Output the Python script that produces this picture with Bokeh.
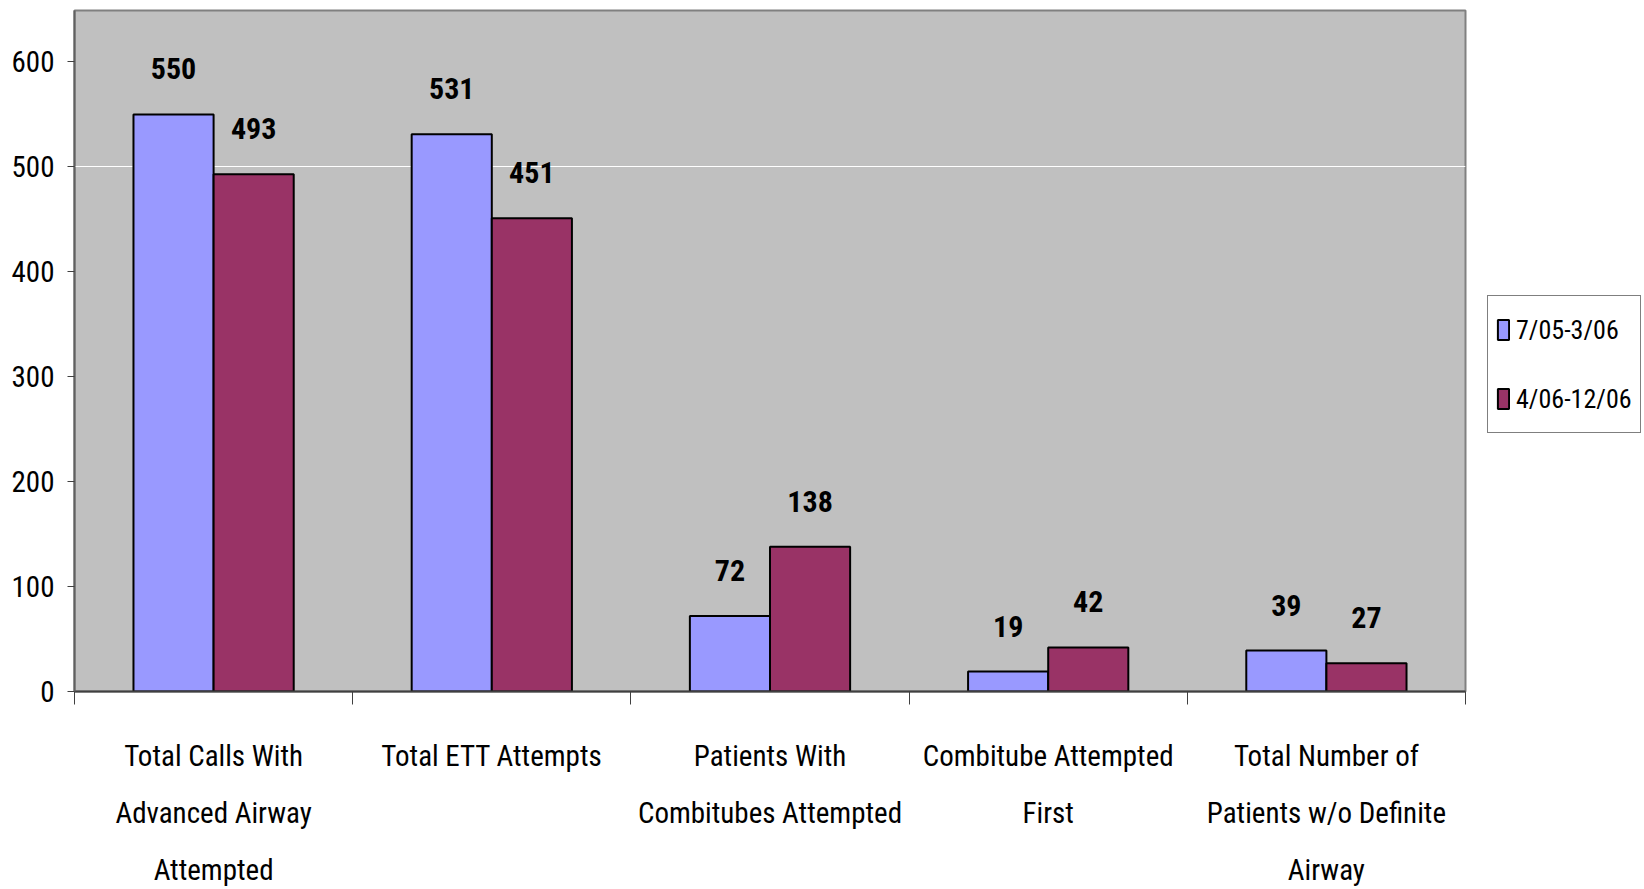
from bokeh.plotting import figure
from bokeh.layouts import row
from bokeh.models import (Range1d, LinearAxis, FixedTicker, Legend, LegendItem,
                          ColumnDataSource)
from bokeh.core.properties import value
from bokeh.embed import file_html
from bokeh.resources import INLINE

categories = ["Total Calls With\nAdvanced Airway\nAttempted",
              "Total ETT Attempts",
              "Patients With\nCombitubes Attempted",
              "Combitube Attempted\nFirst",
              "Total Number of\nPatients w/o Definite\nAirway"]
series_names = ["7/05-3/06", "4/06-12/06"]
period1 = [550, 531, 72, 19, 39]
period2 = [493, 451, 138, 42, 27]
y_ticks = [0, 100, 200, 300, 400, 500, 600]

FONT = "Roboto Condensed"
BLUE = "#9999FF"
MAROON = "#993366"

n = len(categories)
centers = [i + 0.5 for i in range(n)]
src = ColumnDataSource(dict(
    x1=[c - 0.144 for c in centers],
    x2=[c + 0.144 for c in centers],
    v1=period1, v2=period2,
    t1=[str(v) for v in period1], t2=[str(v) for v in period2],
))

p = figure(width=1481, height=889, output_backend="svg", toolbar_location=None,
           x_range=Range1d(0, n), y_range=Range1d(0, 649),
           x_axis_location=None, y_axis_location=None,
           min_border_left=74, min_border_right=16, min_border_top=10,
           min_border_bottom=193)
p.background_fill_color = "#C0C0C0"
p.border_fill_color = "white"
p.outline_line_color = "#808080"
p.outline_line_width = 2

p.xgrid.visible = False
p.ygrid.ticker = FixedTicker(ticks=[500])
p.ygrid.grid_line_color = "white"
p.ygrid.grid_line_width = 1

# y axis
yax = LinearAxis(ticker=FixedTicker(ticks=y_ticks))
yax.axis_line_color = "#606060"
yax.axis_line_width = 2
yax.major_tick_line_color = "#404040"
yax.major_tick_in = 0
yax.major_tick_out = 7
yax.minor_tick_line_color = None
yax.major_label_standoff = 13
yax.major_label_text_font = FONT
yax.major_label_text_font_size = "29px"
yax.major_label_text_color = "black"
p.add_layout(yax, "left")

# x axis: category boundary ticks
xax = LinearAxis(ticker=FixedTicker(ticks=list(range(n + 1))))
xax.axis_line_color = "#404040"
xax.axis_line_width = 2
xax.major_tick_line_color = "#404040"
xax.major_tick_in = 0
xax.major_tick_out = 13
xax.minor_tick_line_color = None
xax.major_label_overrides = {i: "" for i in range(n + 1)}
xax.major_label_text_font_size = "1px"
xax.major_label_standoff = 0
p.add_layout(xax, "below")

# x axis: category labels, one axis per text line
split = [c.split("\n") for c in categories]
nlines = max(len(s) for s in split)
for k in range(nlines):
    lax = LinearAxis(ticker=FixedTicker(ticks=centers))
    lax.axis_line_color = None
    lax.major_tick_line_color = None
    lax.minor_tick_line_color = None
    lax.major_tick_out = 0
    lax.major_tick_in = 0
    lax.major_label_overrides = {c: (s[k] if k < len(s) else "")
                                 for c, s in zip(centers, split)}
    lax.major_label_text_font = FONT
    lax.major_label_text_font_size = "29px"
    lax.major_label_text_color = "black"
    lax.major_label_standoff = 34 if k == 0 else 20
    p.add_layout(lax, "below")

p.vbar(x="x1", top="v1", width=0.288, bottom=0, source=src,
       fill_color=BLUE, line_color="black", line_width=2)
p.vbar(x="x2", top="v2", width=0.288, bottom=0, source=src,
       fill_color=MAROON, line_color="black", line_width=2)

for xcol, ycol, tcol in (("x1", "v1", "t1"), ("x2", "v2", "t2")):
    p.text(x=xcol, y=ycol, text=tcol, source=src, text_align="center",
           text_baseline="bottom", y_offset=-35,
           text_font=value(FONT), text_font_size="30px",
           text_font_style="bold", text_color="black")

# legend panel (separate figure to the right of the chart); its renderers
# share the chart's data, drawn small so that the opaque legend box hides them
pl = figure(width=163, height=889, output_backend="svg", toolbar_location=None,
            x_axis_location=None, y_axis_location=None,
            min_border=0, x_range=Range1d(-0.5, n + 0.5),
            y_range=Range1d(-1540, 2260))
pl.outline_line_color = None
pl.grid.visible = False
pl.background_fill_color = "white"
pl.border_fill_color = "white"
lr1 = pl.vbar(x="x1", top="v1", width=0.288, bottom=0, source=src,
              fill_color=BLUE, line_color="black", line_width=2)
lr2 = pl.vbar(x="x2", top="v2", width=0.288, bottom=0, source=src,
              fill_color=MAROON, line_color="black", line_width=2)

legend = Legend(items=[LegendItem(label=series_names[0], renderers=[lr1]),
                       LegendItem(label=series_names[1], renderers=[lr2])],
                location=(6, 258))
legend.background_fill_color = "white"
legend.background_fill_alpha = 1
legend.border_line_color = "black"
legend.border_line_width = 1
legend.label_text_font = FONT
legend.label_text_font_size = "26px"
legend.label_text_color = "black"
legend.label_height = 51
legend.label_width = 110
legend.spacing = 18
legend.padding = 8
legend.margin = 0
legend.glyph_width = 14
legend.glyph_height = 25
legend.label_standoff = 6
pl.add_layout(legend)

open("out.html", "w").write(file_html(row(p, pl), INLINE))
